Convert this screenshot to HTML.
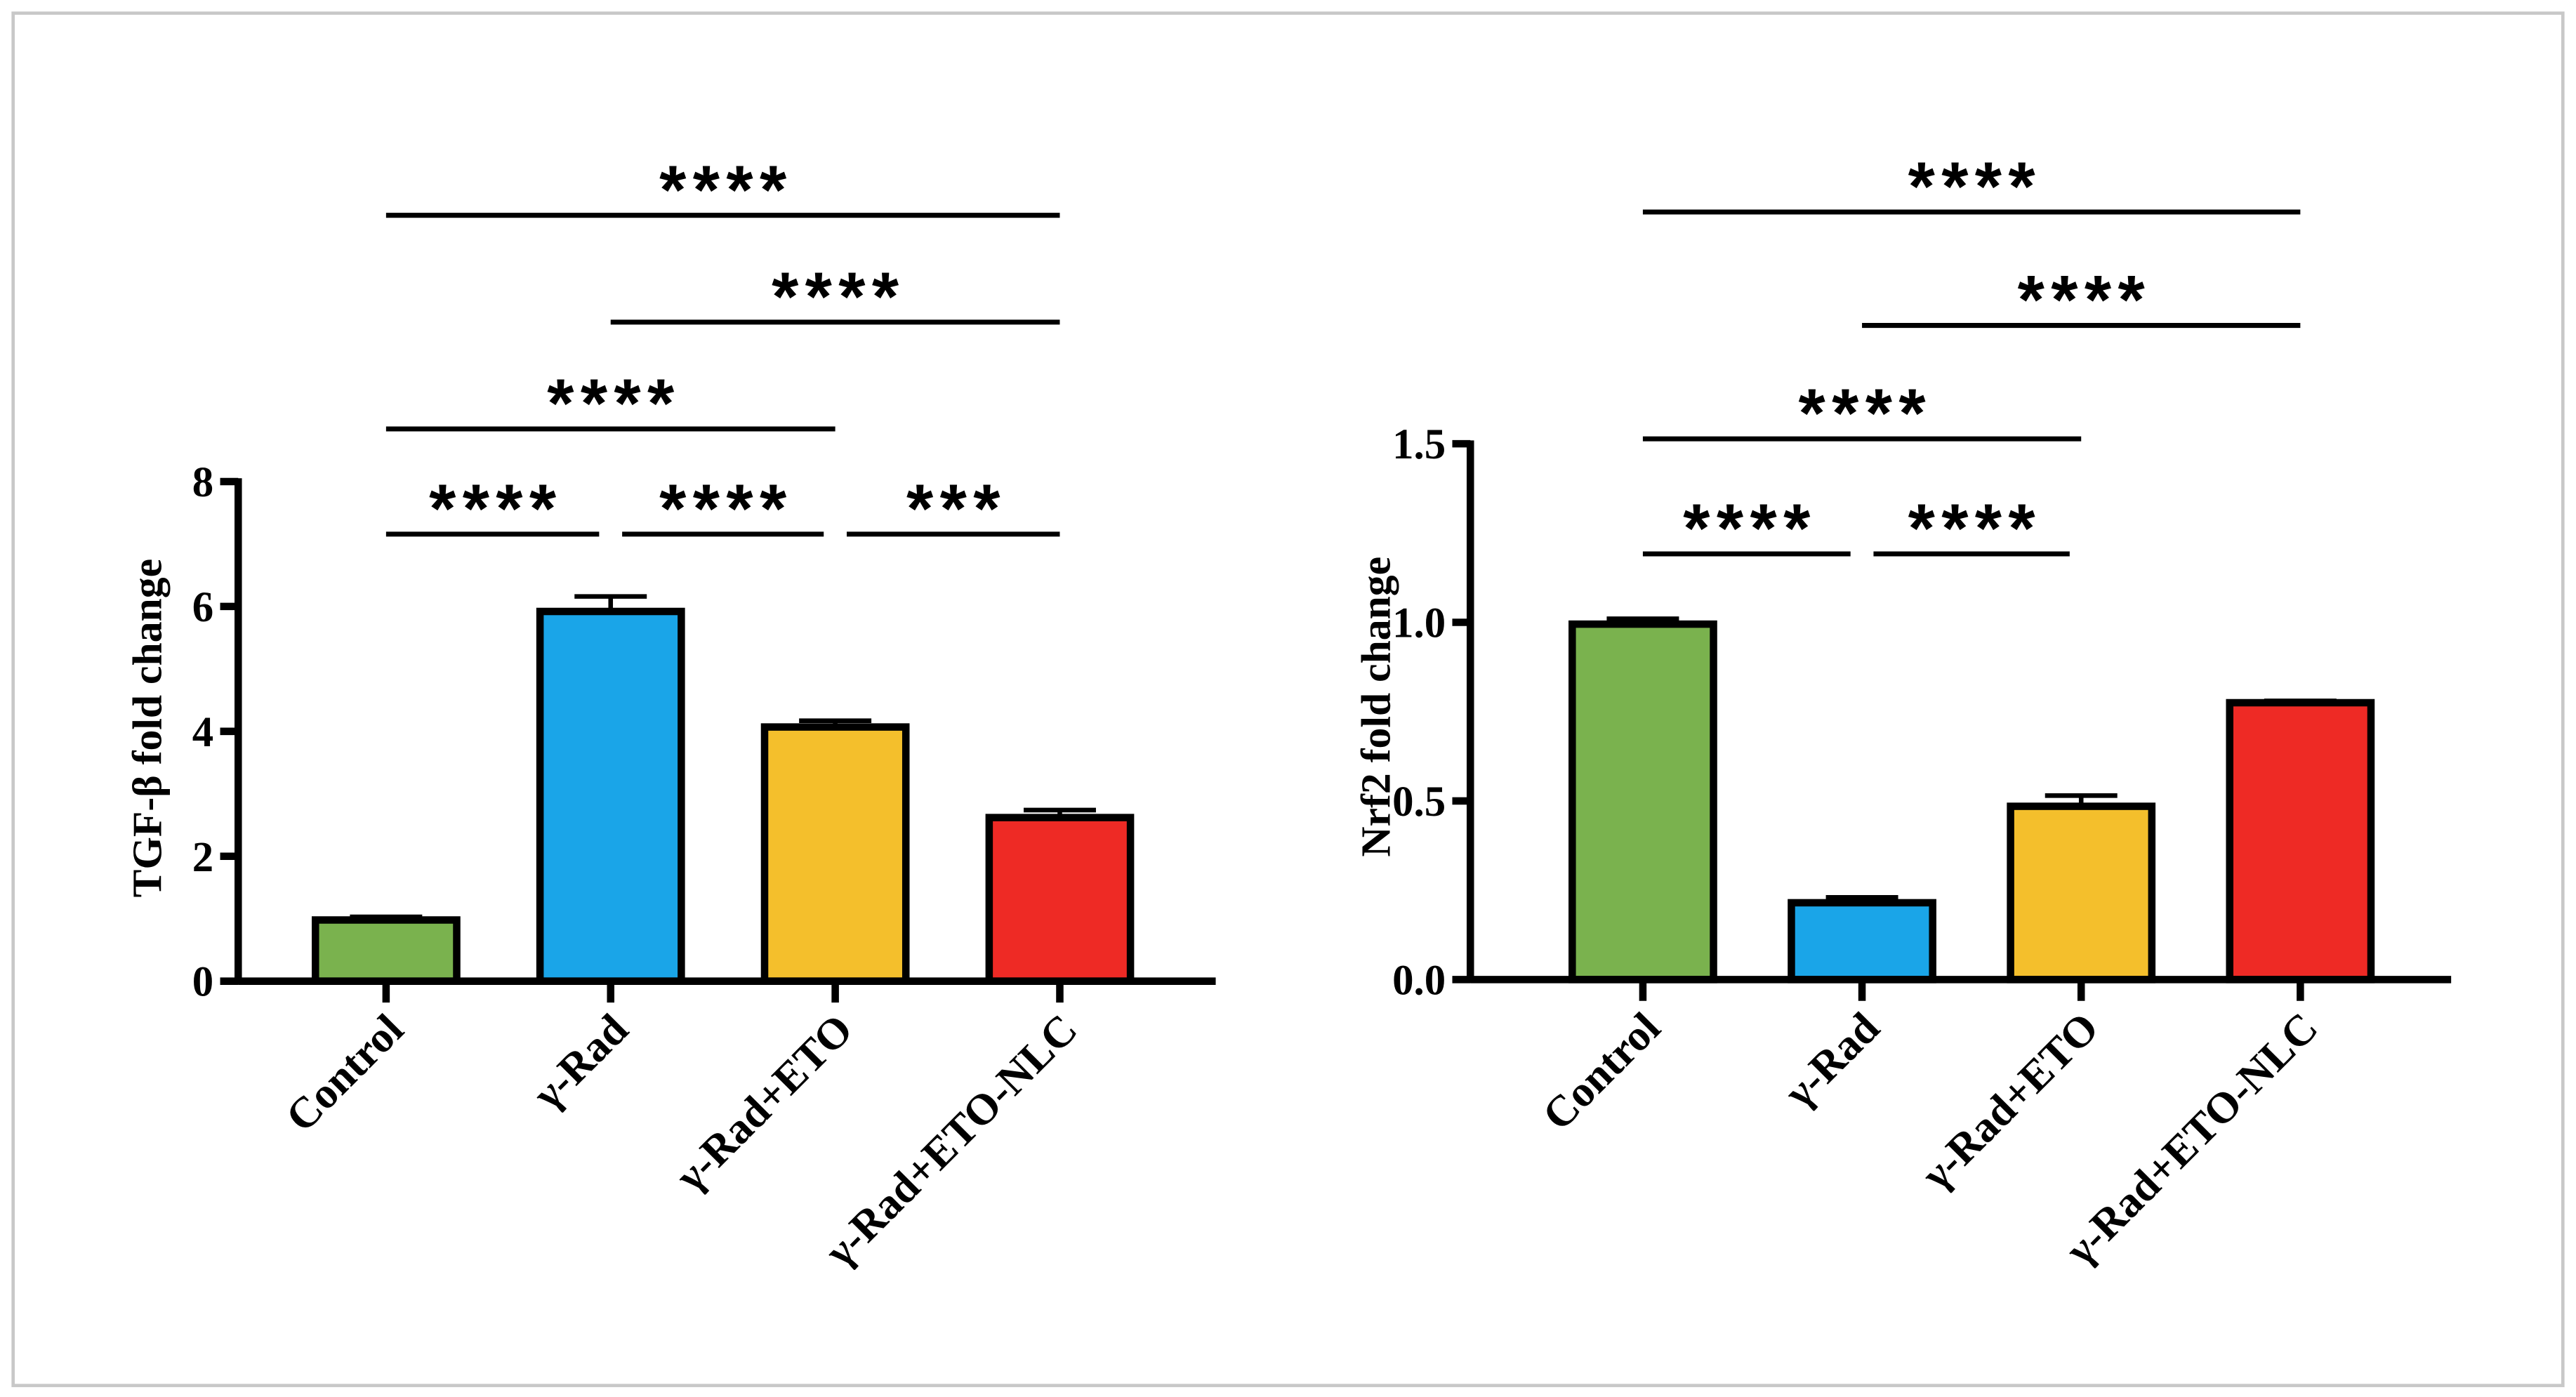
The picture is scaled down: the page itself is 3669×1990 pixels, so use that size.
<!DOCTYPE html>
<html><head><meta charset="utf-8"><style>
html,body{margin:0;padding:0;background:#fff;}
svg{display:block;}
</style></head><body>
<svg id="fig" width="3669" height="1990" viewBox="0 0 1568 850" preserveAspectRatio="none" xmlns="http://www.w3.org/2000/svg">
<rect x="8" y="8" width="1552" height="835" fill="#fff" stroke="#c8c8c8" stroke-width="2"/>
</svg>
<script>
const categories = ["Control", "γ-Rad", "γ-Rad+ETO", "γ-Rad+ETO-NLC"];
const colors = ["#7ab24e", "#1aa5e8", "#f4bf2c", "#ee2a25"];
const tgfValues = [0.98, 5.92, 4.07, 2.62];
const tgfErrors = [0.05, 0.24, 0.1, 0.12];
const tgfTicks = ["0", "2", "4", "6", "8"];
const tgfTickValues = [0, 2, 4, 6, 8];
const nrfValues = [0.995, 0.215, 0.485, 0.775];
const nrfErrors = [0.015, 0.015, 0.03, 0.005];
const nrfTicks = ["0.0", "0.5", "1.0", "1.5"];
const nrfTickValues = [0, 0.5, 1.0, 1.5];
// significance: [from index, to index, label, line y (px in chart)]
const tgfSig = [[0, 3, "****", 131], [1, 3, "****", 196], [0, 2, "****", 261], [0, 1, "****", 325], [1, 2, "****", 325], [2, 3, "***", 325]];
const nrfSig = [[0, 3, "****", 129], [1, 3, "****", 198], [0, 2, "****", 267], [0, 1, "****", 337], [1, 2, "****", 337]];

const NS = "http://www.w3.org/2000/svg";
const svg = document.getElementById("fig");
function mk(tag, attrs, parent) {
  const e = document.createElementNS(NS, tag);
  for (const k in attrs) e.setAttribute(k, attrs[k]);
  (parent || svg).appendChild(e);
  return e;
}

function chart(cfg) {
  const g = mk("g", {});
  
  
  const y = v => cfg.y0 - (v - 0) / cfg.max * (cfg.y0 - cfg.yTop);
  const x = i => cfg.x0c + i * cfg.step;
  const bw = 86;
  cfg.values.forEach((v, i) => {
    const err = mk("path", {d: `M${x(i)} ${y(v)} V${y(v + cfg.errors[i])} M${x(i) - 22} ${y(v + cfg.errors[i])} H${x(i) + 22}`, stroke: "#000", "stroke-width": 2.8, fill: "none"}, g);
    
    
    const r = mk("rect", {x: x(i) - bw / 2, y: y(v), width: bw, height: cfg.y0 - y(v), fill: colors[i], stroke: "#000", "stroke-width": 4.5}, g);
    
    
  });
  const ya = mk("line", {x1: cfg.ax, y1: y(cfg.max) - 2, x2: cfg.ax, y2: cfg.y0 + 2, stroke: "#000", "stroke-width": 4.5}, g);
  
  
  const xa = mk("line", {x1: cfg.ax, y1: cfg.y0, x2: cfg.xEnd, y2: cfg.y0, stroke: "#000", "stroke-width": 4.5}, g);
  
  
  cfg.tickValues.forEach((tv, i) => {
    const t = mk("line", {x1: cfg.ax - 11, y1: y(tv), x2: cfg.ax, y2: y(tv), stroke: "#000", "stroke-width": 4.5}, g);
    
    
    const tl = mk("text", {x: cfg.ax - 15, y: y(tv) + 9, "text-anchor": "end", "font-family": "Liberation Serif, serif", "font-weight": "bold", "font-size": 26}, g);
    tl.textContent = cfg.ticks[i];
    
    
  });
  categories.forEach((c, i) => {
    const t = mk("line", {x1: x(i), y1: cfg.y0, x2: x(i), y2: cfg.y0 + 13, stroke: "#000", "stroke-width": 4.5}, g);
    
    
    const tl = mk("text", {x: 0, y: 0, "text-anchor": "end", transform: `translate(${x(i) + 12},${cfg.y0 + 31}) rotate(-45)`, "font-family": "Liberation Serif, serif", "font-weight": "bold", "font-size": 26.5}, g);
    tl.textContent = c;
    
    
  });
  const yl = mk("text", {x: 0, y: 0, "text-anchor": "middle", transform: `translate(${cfg.labelX},${cfg.labelY}) rotate(-90)`, "font-family": "Liberation Serif, serif", "font-weight": "bold", "font-size": 25.5}, g);
  yl.textContent = cfg.yTitle;
  
  
  cfg.sig.forEach(s => {
    const adjacent = s[1] - s[0] === 1;
    const x1 = x(s[0]) + (adjacent && s[0] > 0 ? 7 : 0);
    const x2 = x(s[1]) - (adjacent && s[1] < 3 ? 7 : 0);
    const l = mk("line", {x1: x1, y1: s[3], x2: x2, y2: s[3], stroke: "#000", "stroke-width": 3}, g);
    
    
    const st = mk("text", {x: (x1 + x2) / 2 + 2, y: s[3] - 1, "text-anchor": "middle", "font-family": "Liberation Sans, sans-serif", "font-weight": "bold", "font-size": 42, "letter-spacing": "4"}, g);
    st.textContent = s[2];
    
    
  });
}

chart({name: "tgf-beta-chart", values: tgfValues, errors: tgfErrors, ticks: tgfTicks, tickValues: tgfTickValues, max: 8,
  y0: 597, yTop: 293, ax: 145, xEnd: 740, x0c: 235, step: 136.7, labelX: 98, labelY: 443, yTitle: "TGF-β fold change", sig: tgfSig});
chart({name: "nrf2-chart", values: nrfValues, errors: nrfErrors, ticks: nrfTicks, tickValues: nrfTickValues, max: 1.5,
  y0: 596, yTop: 270, ax: 895, xEnd: 1492, x0c: 1000, step: 133.4, labelX: 846, labelY: 430, yTitle: "Nrf2 fold change", sig: nrfSig});
</script>
</body></html>
